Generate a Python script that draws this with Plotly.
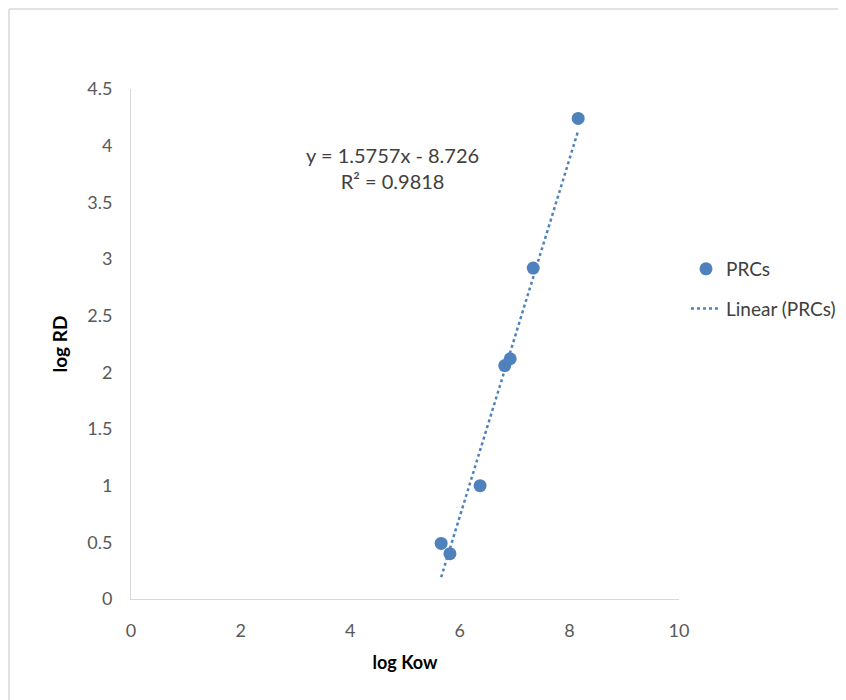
import plotly.graph_objects as go

log_kow = [5.66, 5.82, 6.37, 6.82, 6.92, 7.34, 8.16]
log_rd = [0.49, 0.40, 1.00, 2.06, 2.12, 2.92, 4.24]
slope = 1.5757
intercept = -8.726
r2 = 0.9818

x_ticks = [0, 2, 4, 6, 8, 10]
y_ticks = [0, 0.5, 1, 1.5, 2, 2.5, 3, 3.5, 4, 4.5]

blue = "#4F81BD"
font_family = "Lato, 'Open Sans', sans-serif"

trend_x = [min(log_kow), max(log_kow)]
trend_y = [slope * v + intercept for v in trend_x]

fig = go.Figure()
fig.add_trace(go.Scatter(
    x=log_kow, y=log_rd, mode="markers", name="PRCs",
    marker=dict(color=blue, size=13), legendgroup="a"))
fig.add_trace(go.Scatter(
    x=trend_x, y=trend_y, mode="lines", name="Linear (PRCs)",
    line=dict(color=blue, width=2.5, dash="dot"), legendgroup="b"))

OFF = 8  # page body margin
W, H = 846, 700
# target plot-area pixel positions in the final screenshot
PX0, PX1, PY0, PY1 = 131, 679, 89, 599
L, T = PX0 - OFF, PY0 - OFF
R = W - (PX1 - OFF)
B = H - (PY1 - OFF)
pw, ph = PX1 - PX0, PY1 - PY0

def px2x(p):
    return (p - PX0) / pw

def py2y(p):
    return (PY1 - p) / ph

fig.update_layout(
    width=W, height=H,
    margin=dict(l=L, r=R, t=T, b=B),
    paper_bgcolor="white", plot_bgcolor="white",
    font=dict(family=font_family, size=18, color="#595959"),
    showlegend=True,
    legend=dict(x=px2x(686), y=py2y(250), xanchor="left", yanchor="top",
                font=dict(size=19, color="#404040"), tracegroupgap=12,
                traceorder="grouped", bgcolor="rgba(0,0,0,0)"),
    xaxis=dict(range=[0, 10], tickvals=x_ticks, showgrid=False, zeroline=False,
               showline=True, linecolor="#D9D9D9", linewidth=1,
               ticks="", ticklabelstandoff=15,
               title=dict(text="<b>log Kow</b>", font=dict(size=18, color="#000000"), standoff=16)),
    yaxis=dict(range=[0, 4.5], tickvals=y_ticks, showgrid=False, zeroline=False,
               showline=True, linecolor="#D9D9D9", linewidth=1,
               ticks="", ticklabelstandoff=14,
               title=dict(text="<b>log RD</b>", font=dict(size=19, color="#000000"), standoff=14)),
    shapes=[
        dict(type="line", xref="paper", yref="paper",
             x0=px2x(OFF + 1), x1=px2x(OFF + 1), y0=py2y(OFF + 1), y1=py2y(OFF + H),
             line=dict(color="#D9D9D9", width=1.5), layer="below"),
        dict(type="line", xref="paper", yref="paper",
             x0=px2x(OFF + 1), x1=px2x(OFF + W), y0=py2y(OFF + 1), y1=py2y(OFF + 1),
             line=dict(color="#D9D9D9", width=1.5), layer="below"),
    ],
    annotations=[dict(x=4.78, y=3.80, xref="x", yref="y", showarrow=False,
                      text=f"y = {slope}x - {abs(intercept)}<br>R² = {r2}",
                      font=dict(size=20, color="#404040"), align="center")],
)

fig.write_html("out.html")
